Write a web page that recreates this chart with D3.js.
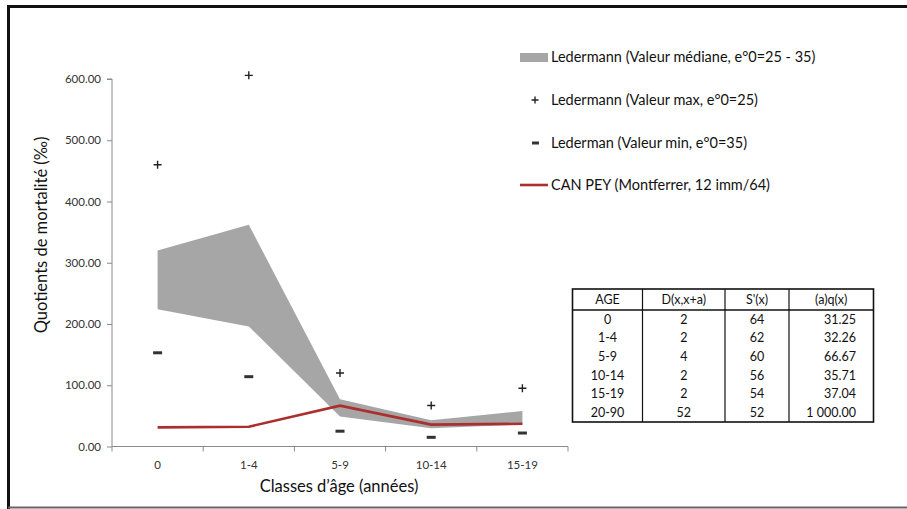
<!DOCTYPE html>
<html>
<head>
<meta charset="utf-8">
<script src="https://cdn.jsdelivr.net/npm/d3@7"></script>
<style>
  html, body { margin: 0; padding: 0; background: #fff; }
  svg { display: block; }
  text { font-family: Lato, "Open Sans", sans-serif; }
</style>
</head>
<body>
<svg id="chart" width="907" height="509"></svg>
<script>
// ---- Data ----
const categories = ["0", "1-4", "5-9", "10-14", "15-19"];
const bandUpper = [320, 362, 77, 43, 58];      // Ledermann médiane (e°0=25)
const bandLower = [224, 196, 49, 30, 36];      // Ledermann médiane (e°0=35)
const maxValues = [460, 606, 120, 67, 95];     // Ledermann max, e°0=25
const minValues = [153, 114, 25, 15, 22];      // Lederman min, e°0=35
const canPey = [31.25, 32.26, 66.67, 35.71, 37.04];
const yTicks = [0, 100, 200, 300, 400, 500, 600];

const legendLabels = [
  "Ledermann (Valeur médiane, e°0=25 - 35)",
  "Ledermann (Valeur max, e°0=25)",
  "Lederman (Valeur min, e°0=35)",
  "CAN PEY (Montferrer, 12 imm/64)"
];

const tableHeaders = ["AGE", "D(x,x+a)", "S'(x)", "(a)q(x)"];
const tableAge = ["0", "1-4", "5-9", "10-14", "15-19", "20-90"];
const tableD = ["2", "2", "4", "2", "2", "52"];
const tableS = ["64", "62", "60", "56", "54", "52"];
const tableQ = ["31.25", "32.26", "66.67", "35.71", "37.04", "1 000.00"];

// ---- Setup ----
const svg = d3.select("#chart");
const RED = "#ab2f2f";
const BAND = "#a6a6a6";

// frame
svg.append("line").attr("x1", 7).attr("x2", 907).attr("y1", 6.5).attr("y2", 6.5)
  .attr("stroke", "#111").attr("stroke-width", 3);
svg.append("line").attr("x1", 8.5).attr("x2", 8.5).attr("y1", 5).attr("y2", 509)
  .attr("stroke", "#111").attr("stroke-width", 3);
svg.append("line").attr("x1", 8).attr("x2", 907).attr("y1", 507.5).attr("y2", 507.5)
  .attr("stroke", "#666").attr("stroke-width", 2);

const x = d3.scaleBand().domain(categories).range([112, 568]).padding(0);
const y = d3.scaleLinear().domain([0, 600]).range([446.5, 79]);
const cx = c => x(c) + x.bandwidth() / 2;

// band area
const rows = categories.map((c, i) => ({ c, lo: bandLower[i], hi: bandUpper[i] }));
svg.append("path").datum(rows)
  .attr("fill", BAND)
  .attr("d", d3.area().x(d => cx(d.c)).y0(d => y(d.lo)).y1(d => y(d.hi)));

// axes
const yAxis = svg.append("g").attr("transform", "translate(112,0)")
  .call(d3.axisLeft(y).tickValues(yTicks).tickFormat(d3.format(".2f")).tickSize(5).tickPadding(6));
const xAxis = svg.append("g").attr("transform", `translate(0,${y(0)})`)
  .call(d3.axisBottom(x).tickSize(0).tickPadding(14));
[yAxis, xAxis].forEach(g => {
  g.select(".domain").attr("stroke", "#8a8a8a");
  g.selectAll(".tick line").attr("stroke", "#8a8a8a");
  g.selectAll("text").attr("fill", "#333").attr("font-size", 11.5)
    .style("font-family", "Lato, sans-serif");
});
yAxis.select(".domain").attr("d", `M-5,${y(600)}H0V${y(0)}`);
xAxis.select(".domain").attr("d", `M112,0H568`);
// category boundary ticks
const bounds = categories.map(c => x(c)).concat([x.range()[1]]);
svg.append("g").selectAll("line").data(bounds).join("line")
  .attr("x1", d => d).attr("x2", d => d)
  .attr("y1", y(0)).attr("y2", y(0) + 5)
  .attr("stroke", "#8a8a8a");

// red line
svg.append("path").datum(canPey.map((v, i) => ({ c: categories[i], v })))
  .attr("fill", "none").attr("stroke", RED).attr("stroke-width", 2.6)
  .attr("d", d3.line().x(d => cx(d.c)).y(d => y(d.v)));

// plus markers
const plus = (g, px, py, s) => {
  g.append("path").attr("d", `M${px - s},${py}H${px + s}M${px},${py - s}V${py + s}`)
    .attr("stroke", "#222").attr("stroke-width", 1.4).attr("fill", "none");
};
const gMax = svg.append("g");
maxValues.forEach((v, i) => plus(gMax, cx(categories[i]), y(v), 4));

// minus markers
svg.append("g").selectAll("rect").data(minValues).join("rect")
  .attr("x", (d, i) => cx(categories[i]) - 4.5)
  .attr("y", d => y(d) - 1.5)
  .attr("width", 9).attr("height", 3)
  .attr("fill", "#333");

// axis titles
svg.append("text")
  .attr("transform", `translate(47,${235}) rotate(-90)`)
  .attr("text-anchor", "middle").attr("font-size", 16.5).attr("fill", "#111")
  .text("Quotients de mortalité (‰)");
svg.append("text")
  .attr("x", 339).attr("y", 492)
  .attr("text-anchor", "middle").attr("font-size", 16.5).attr("fill", "#111")
  .text("Classes d’âge (années)");

// legend
const legY = [57, 100, 143, 185];
const leg = svg.append("g");
leg.append("rect").attr("x", 520).attr("y", 53).attr("width", 28).attr("height", 9).attr("fill", BAND);
plus(leg, 535, legY[1], 3.5);
leg.append("rect").attr("x", 532).attr("y", legY[2] - 1.5).attr("width", 7).attr("height", 3).attr("fill", "#333");
leg.append("line").attr("x1", 520).attr("x2", 548).attr("y1", legY[3]).attr("y2", legY[3])
  .attr("stroke", RED).attr("stroke-width", 2.6);
leg.selectAll("text.lab").data(legendLabels).join("text")
  .attr("class", "lab")
  .attr("x", 551).attr("y", (d, i) => legY[i])
  .attr("dy", "0.35em").attr("font-size", 14.5).attr("fill", "#111")
  .text(d => d);

// table
const tX = [572.5, 642.5, 725, 789, 873.5];
const tTop = 289, tHead = 310, tBot = 422;
const rowH = (tBot - tHead) / tableAge.length;
const tg = svg.append("g");
tg.append("rect").attr("x", tX[0]).attr("y", tTop).attr("width", tX[4] - tX[0]).attr("height", tBot - tTop)
  .attr("fill", "none").attr("stroke", "#111").attr("stroke-width", 1.6);
tg.append("line").attr("x1", tX[0]).attr("x2", tX[4]).attr("y1", tHead).attr("y2", tHead)
  .attr("stroke", "#111").attr("stroke-width", 1.6);
tX.slice(1, 4).forEach(xx => tg.append("line").attr("x1", xx).attr("x2", xx)
  .attr("y1", tTop).attr("y2", tBot).attr("stroke", "#111").attr("stroke-width", 1.2));
tableHeaders.forEach((h, j) => tg.append("text")
  .attr("x", (tX[j] + tX[j + 1]) / 2).attr("y", (tTop + tHead) / 2).attr("dy", "0.35em")
  .attr("text-anchor", "middle").attr("font-size", 12.5).attr("fill", "#111").text(h));
const cols = [tableAge, tableD, tableS];
cols.forEach((col, j) => col.forEach((v, i) => tg.append("text")
  .attr("x", (tX[j] + tX[j + 1]) / 2).attr("y", tHead + rowH * (i + 0.5)).attr("dy", "0.35em")
  .attr("text-anchor", "middle").attr("font-size", 12.5).attr("fill", "#111").text(v)));
tableQ.forEach((v, i) => tg.append("text")
  .attr("x", 856).attr("y", tHead + rowH * (i + 0.5)).attr("dy", "0.35em")
  .attr("text-anchor", "end").attr("font-size", 12.5).attr("fill", "#111").text(v));
</script>
</body>
</html>
